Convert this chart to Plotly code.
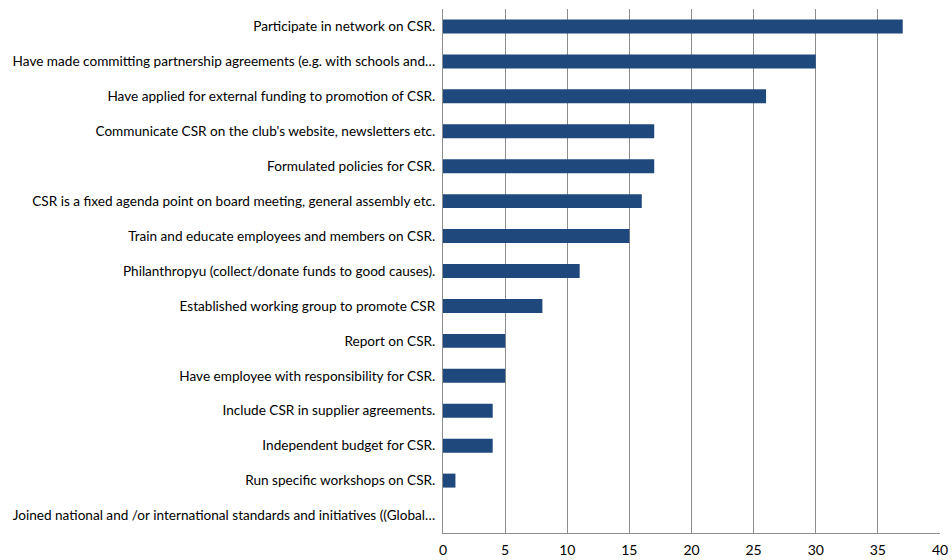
import plotly.graph_objects as go

categories = [
    "Participate in network on CSR.",
    "Have made committing partnership agreements (e.g. with schools and…",
    "Have applied for external funding to promotion of CSR.",
    "Communicate CSR on the club's website, newsletters etc.",
    "Formulated policies for CSR.",
    "CSR is a fixed agenda point on board meeting, general assembly etc.",
    "Train and educate employees and members on CSR.",
    "Philanthropyu (collect/donate funds to good causes).",
    "Established working group to promote CSR",
    "Report on CSR.",
    "Have employee with responsibility for CSR.",
    "Include CSR in supplier agreements.",
    "Independent budget for CSR.",
    "Run specific workshops on CSR.",
    "Joined national and /or international standards and initiatives ((Global…",
]
values = [37, 30, 26, 17, 17, 16, 15, 11, 8, 5, 5, 4, 4, 1, 0]
x_ticks = [0, 5, 10, 15, 20, 25, 30, 35, 40]

fig = go.Figure(
    go.Bar(
        y=categories,
        x=values,
        orientation="h",
        marker=dict(color="#1f497d", line=dict(width=0)),
        width=0.4,
    )
)

fig.update_layout(
    width=952,
    height=560,
    margin=dict(l=443, r=12, t=9, b=27, autoexpand=False),
    paper_bgcolor="white",
    plot_bgcolor="white",
    font=dict(family="Lato, 'Open Sans', sans-serif", size=13.6, color="#000000"),
    showlegend=False,
    bargap=0.6,
)

fig.update_xaxes(
    range=[0, 40],
    tickvals=x_ticks,
    showgrid=True,
    gridcolor="#8c8c8c",
    gridwidth=1,
    zeroline=False,
    showline=True,
    linecolor="#8c8c8c",
    linewidth=1,
    ticks="",
    ticklabelstandoff=4,
    tickfont=dict(size=14),
    automargin=False,
)

fig.update_yaxes(
    categoryorder="array",
    categoryarray=categories[::-1],
    showgrid=False,
    zeroline=False,
    showline=True,
    linecolor="#8c8c8c",
    linewidth=1,
    ticks="",
    ticklabelstandoff=4,
    tickfont=dict(size=13.6),
    automargin=False,
)

fig.write_html("out.html")
